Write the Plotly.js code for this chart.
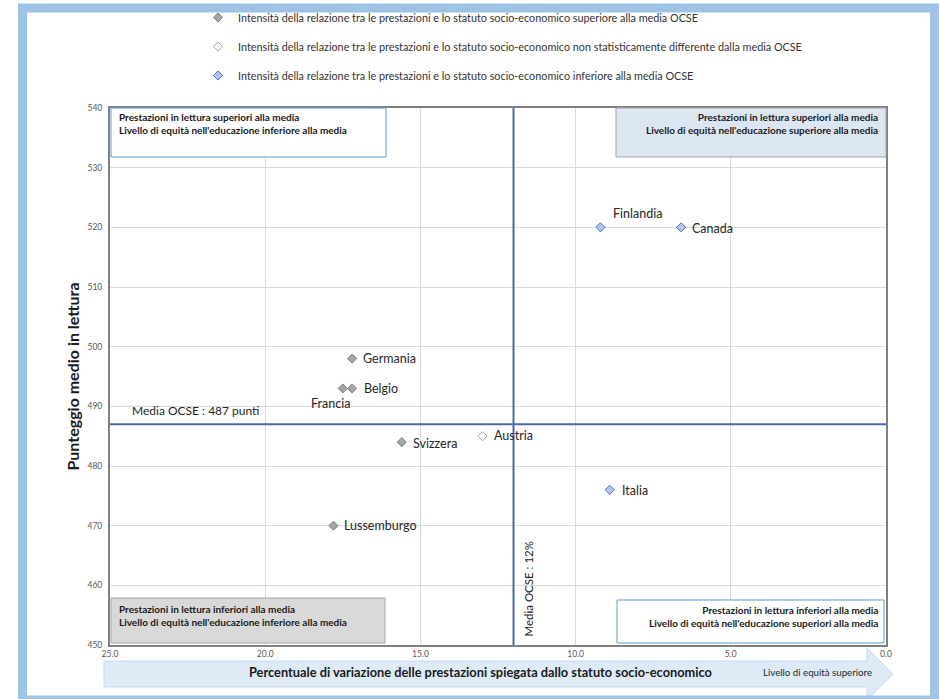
<!DOCTYPE html>
<html>
<head>
<meta charset="utf-8">
<script src="https://cdn.plot.ly/plotly-3.0.1.min.js"></script>
<style>html,body{margin:0;padding:0;background:#fff;}#chart{width:939px;height:699px;}</style>
</head>
<body>
<div id="chart"></div>
<script>
// ---- Data ----
const countries = ['Finlandia','Canada','Germania','Belgio','Francia','Svizzera','Austria','Italia','Lussemburgo'];
const variancePct = [9.2, 6.6, 17.2, 17.2, 17.5, 15.6, 13.0, 8.9, 17.8];
const readingScore = [520, 520, 498, 493, 493, 484, 485, 476, 470];
const category = ['low','low','high','high','high','high','ns','low','high'];
const categoryKeys = ['high','ns','low'];
const categoryNames = [
  'Intensità della relazione tra le prestazioni e lo statuto socio-economico superiore alla media OCSE',
  'Intensità della relazione tra le prestazioni e lo statuto socio-economico non statisticamente differente dalla media OCSE',
  'Intensità della relazione tra le prestazioni e lo statuto socio-economico inferiore alla media OCSE'
];
const oecdVariance = 12;
const oecdScore = 487;
const xTickVals = [25, 20, 15, 10, 5, 0];
const yTickVals = [450, 460, 470, 480, 490, 500, 510, 520, 530, 540];

// ---- Styles ----
const catStyle = {
  high: {color: '#A6A6A6', line: '#808080'},
  ns:   {color: '#FFFFFF', line: '#A6A6A6'},
  low:  {color: '#B4C7E7', line: '#4472C4'}
};
const labelOffset = {
  Finlandia: [11, 14, 'left'], Canada: [9, -1, 'left'], Germania: [9, 0, 'left'],
  Belgio: [10, 0, 'left'], Francia: [9, -15, 'right'], Svizzera: [9, -1, 'left'],
  Austria: [10, 1, 'left'], Italia: [10, -1, 'left'], Lussemburgo: [9, 0, 'left']
};
const FONT = 'Lato, "Open Sans", sans-serif';
const W = 939, H = 699;
const L = 110, R = 886, T = 108, B = 645;
const px = x => (x - L) / (R - L);
const py = y => (B - y) / (B - T);

const traces = categoryKeys.map((k, i) => {
  const idx = countries.map((c, j) => j).filter(j => category[j] === k);
  return {
    type: 'scatter', mode: 'markers', name: categoryNames[i], legendgroup: k,
    x: idx.map(j => variancePct[j]), y: idx.map(j => readingScore[j]),
    text: idx.map(j => countries[j]), hoverinfo: 'text',
    marker: {symbol: 'diamond', size: 7, color: catStyle[k].color, line: {color: catStyle[k].line, width: 1}}
  };
});

const labelAnn = countries.map((c, j) => ({
  x: variancePct[j], y: readingScore[j], xref: 'x', yref: 'y', text: c, showarrow: false,
  xanchor: labelOffset[c][2], yanchor: 'middle', xshift: labelOffset[c][0], yshift: labelOffset[c][1],
  font: {family: FONT, size: 12.5, color: '#262626'}
}));

function boxText(text, xPix, yPix, anchor) {
  return {x: px(xPix), y: py(yPix), xref: 'paper', yref: 'paper', text: text, showarrow: false,
    xanchor: anchor, yanchor: 'middle', align: anchor,
    font: {family: FONT, size: 10, color: '#1a1a1a'}};
}

const annotations = labelAnn.concat([
  boxText('<b>Prestazioni in lettura superiori alla media</b><br><b>Livello di equità nell\'educazione inferiore alla media</b>', 117, 123.5, 'left'),
  boxText('<b>Prestazioni in lettura superiori alla media</b><br><b>Livello di equità nell\'educazione superiore alla media</b>', 880, 123.5, 'right'),
  boxText('<b>Prestazioni in lettura inferiori alla media</b><br><b>Livello di equità nell\'educazione inferiore alla media</b>', 117, 615.5, 'left'),
  boxText('<b>Prestazioni in lettura inferiori alla media</b><br><b>Livello di equità nell\'educazione superiori alla media</b>', 880, 616.5, 'right'),
  {x: px(130), y: py(410), xref: 'paper', yref: 'paper', text: 'Media OCSE : ' + oecdScore + ' punti', showarrow: false,
   xanchor: 'left', yanchor: 'middle', font: {family: FONT, size: 12, color: '#262626'}},
  {x: oecdVariance, y: py(589), xref: 'x', yref: 'paper', text: 'Media OCSE : ' + oecdVariance + '%', showarrow: false,
   textangle: -90, xanchor: 'center', yanchor: 'middle', xshift: 14, font: {family: FONT, size: 11.5, color: '#262626'}},
  {x: px(480), y: py(672), xref: 'paper', yref: 'paper', text: '<b>Percentuale di variazione delle prestazioni spiegata dallo statuto socio-economico</b>', showarrow: false,
   xanchor: 'center', yanchor: 'middle', font: {family: FONT, size: 12.8, color: '#1a1a1a'}},
  {x: px(761), y: py(672), xref: 'paper', yref: 'paper', text: 'Livello di equità superiore', showarrow: false,
   xanchor: 'left', yanchor: 'middle', font: {family: FONT, size: 9.7, color: '#262626'}}
]);

function rectPix(x0, y0, x1, y1, fill, line, w) {
  return {type: 'rect', xref: 'paper', yref: 'paper', x0: px(x0), x1: px(x1), y0: py(y0), y1: py(y1),
    fillcolor: fill, line: {color: line, width: w}, layer: 'above'};
}
const arrowPts = [[104,661],[867,661],[867,648],[893,674],[867,700],[867,687],[104,687]];
const arrowPath = 'M' + arrowPts.map(p => px(p[0]).toFixed(5) + ',' + py(p[1]).toFixed(5)).join(' L') + ' Z';

const shapes = [
  {type: 'path', xref: 'paper', yref: 'paper', path: arrowPath, fillcolor: '#DEEBF7', line: {color: '#C5D9EE', width: 1}, layer: 'below'},
  rectPix(111, 108, 386, 157, '#FFFFFF', '#5B9BD5', 1),
  rectPix(616, 108, 886, 157, '#DCE6F2', '#A6A6A6', 1),
  rectPix(111, 598, 385, 643, '#D9D9D9', '#A6A6A6', 1),
  rectPix(617, 600, 884, 643, '#FFFFFF', '#5B9BD5', 1),
  {type: 'line', xref: 'x', yref: 'paper', x0: oecdVariance, x1: oecdVariance, y0: 0, y1: 1, line: {color: '#4A69A8', width: 2}, layer: 'above'},
  {type: 'line', xref: 'paper', yref: 'y', x0: 0, x1: 1, y0: oecdScore, y1: oecdScore, line: {color: '#4A69A8', width: 2}, layer: 'above'},
  rectPix(22.5, 8, 934.5, 700, 'rgba(0,0,0,0)', '#9DC3E6', 9)
];

const layout = {
  width: W, height: H,
  margin: {l: L, r: W - R, t: T, b: H - B, autoexpand: false},
  paper_bgcolor: '#FFFFFF', plot_bgcolor: '#FFFFFF',
  font: {family: FONT, color: '#595959'},
  showlegend: true,
  legend: {x: px(198), xanchor: 'left', y: py(3), yanchor: 'top', orientation: 'v',
    font: {family: FONT, size: 10.8, color: '#333333'}, tracegroupgap: 10, bgcolor: 'rgba(0,0,0,0)'},
  xaxis: {range: [25, 0], tickvals: xTickVals, ticktext: xTickVals.map(v => v.toFixed(1)),
    showgrid: true, gridcolor: '#D9D9D9', gridwidth: 1, zeroline: false,
    showline: true, mirror: true, linecolor: '#808080', linewidth: 2, ticks: '',
    tickfont: {family: FONT, size: 8.5, color: '#595959'}},
  yaxis: {range: [450, 540], tickvals: yTickVals, showgrid: true, gridcolor: '#D9D9D9', gridwidth: 1, zeroline: false,
    showline: true, mirror: true, linecolor: '#808080', linewidth: 2, ticks: '', ticklabelstandoff: 4,
    tickfont: {family: FONT, size: 8.5, color: '#595959'},
    title: {text: '<b>Punteggio medio in lettura</b>', font: {family: FONT, size: 16, color: '#1a1a1a'}, standoff: 4}},
  shapes: shapes,
  annotations: annotations
};

Plotly.newPlot('chart', traces, layout, {displayModeBar: false, staticPlot: true});
</script>
</body>
</html>
